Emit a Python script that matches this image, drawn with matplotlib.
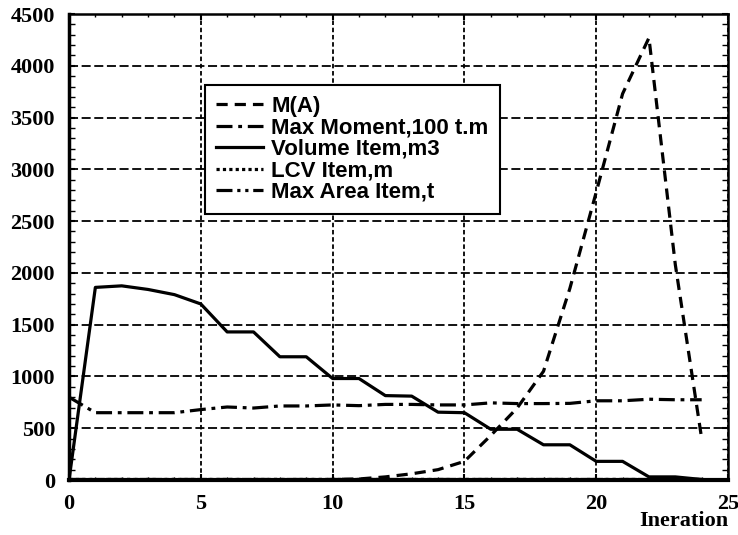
import numpy as np
import matplotlib
matplotlib.use("Agg")
import matplotlib.pyplot as plt
from matplotlib.ticker import MultipleLocator
from matplotlib.font_manager import FontProperties

# iteration index
iters = list(range(0, 25))

m_a = [0, 0, 0, 0, 0, 0, 0, 0, 0, 0, 5, 10, 30, 60, 100, 180, 430, 695, 1050,
       1850, 2780, 3730, 4270, 2080, 400]
max_moment = [800, 650, 650, 650, 650, 680, 705, 695, 715, 715, 725, 718, 730,
              730, 725, 725, 745, 738, 738, 740, 765, 765, 780, 775, 775]
volume = [0, 1860, 1875, 1840, 1790, 1700, 1430, 1430, 1190, 1190, 980, 980,
          815, 810, 655, 650, 490, 490, 340, 340, 180, 180, 30, 30, 5]
lcv = [10] * 25
max_area = [5] * 25

labels = ["M(A)", "Max Moment,100 t.m", "Volume Item,m3", "LCV Item,m", "Max Area Item,t"]

fig = plt.figure(figsize=(7.38, 5.35), dpi=100)
ax = fig.add_axes([0.0935, 0.1028, 0.893, 0.871])

lw = 2.3
ax.plot(iters, m_a, color="black", lw=lw, dashes=(3.5, 2.2), label=labels[0])
ax.plot(iters, max_moment, color="black", lw=lw, dashes=(5, 1.8, 1.2, 1.8), label=labels[1])
ax.plot(iters, volume, color="black", lw=lw, label=labels[2])
ax.plot(iters, lcv, color="black", lw=lw, dashes=(1, 1), label=labels[3])
ax.plot(iters, max_area, color="black", lw=lw, dashes=(5, 1.5, 1, 1.5, 1, 1.5), label=labels[4])

ax.set_xlim(0, 25)
ax.set_ylim(0, 4500)
ax.xaxis.set_major_locator(MultipleLocator(5))
ax.xaxis.set_minor_locator(MultipleLocator(1))
ax.yaxis.set_major_locator(MultipleLocator(500))
ax.yaxis.set_minor_locator(MultipleLocator(100))

ax.grid(True, which="major", axis="y", color="black", lw=1.3, ls=(0, (5, 2)))
ax.grid(True, which="major", axis="x", color="black", lw=1.3, ls=(0, (2.5, 1.5)))

for s in ax.spines.values():
    s.set_linewidth(1.8)
ax.spines["bottom"].set_linewidth(3)
ax.spines["left"].set_linewidth(2.5)

ax.tick_params(which="major", direction="in", length=4, width=1.5,
               top=True, right=True)
ax.tick_params(which="minor", direction="in", length=4, width=1,
               top=True, right=True)
ax.tick_params(axis="x", which="minor", length=6, width=3)
ax.tick_params(axis="x", which="minor", top=True, length=2, width=1)
ax.tick_params(axis="x", pad=10)
ax.tick_params(axis="y", pad=10)

serif = FontProperties(family="Liberation Serif", weight="bold", size=16)
for t in ax.get_xticklabels() + ax.get_yticklabels():
    t.set_fontproperties(serif)

ax.text(1.0, -0.088, "Ineration", transform=ax.transAxes, ha="right", va="center",
        fontproperties=serif)

leg = ax.legend(loc="upper left", bbox_to_anchor=(0.206, 0.848),
                prop={"family": "Liberation Sans", "weight": "bold", "size": 16},
                frameon=True, fancybox=False, handlelength=2.1,
                borderpad=0.5, labelspacing=0.02, handletextpad=0.4,
                borderaxespad=0)
leg.get_frame().set_edgecolor("black")
leg.get_frame().set_linewidth(1.5)
leg.get_frame().set_alpha(1)

fig.savefig("out.png", dpi=100)
